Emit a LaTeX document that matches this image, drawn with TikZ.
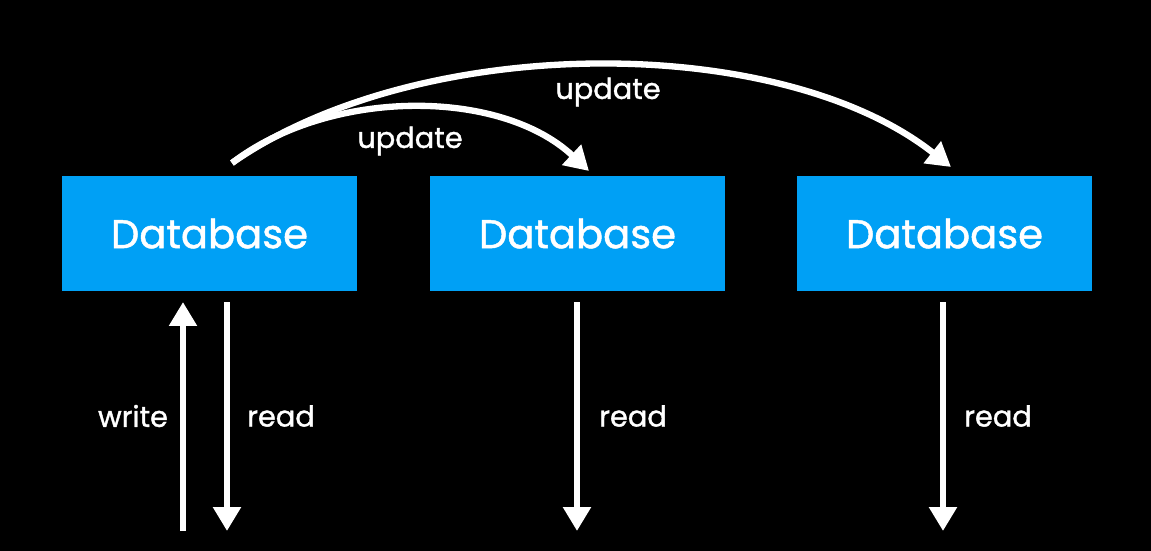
\documentclass[tikz,border=0pt]{standalone}
\usepackage{fontspec}
\setmainfont{Poppins}
\newfontfamily\medfont{Poppins}[FakeBold=1.2]
\usetikzlibrary{arrows.meta}
\definecolor{dbblue}{RGB}{0,160,245}
\tikzset{
  dbbox/.style={fill=dbblue, draw=none, minimum width=7.375cm, minimum height=2.85cm, inner sep=0pt, text=white, font=\medfont\fontsize{28.5}{34}\selectfont},
  flow/.style={white, line width=4.5pt, -{Triangle[width=19pt,length=17pt]}},
  lbl/.style={text=white, font=\medfont\fontsize{20.5}{24}\selectfont, inner sep=0pt}
}
\begin{document}
\begin{tikzpicture}[x=0.025cm, y=-0.025cm]
\fill[black] (0,0) rectangle (1151,551);
\useasboundingbox (0,0) rectangle (1151,551);

\node (db1) at (209.5,233.5) [dbbox]{Database};
\node (db2) at (577.5,233.5) [dbbox]{Database};
\node (db3) at (944.5,233.5) [dbbox]{Database};

\coordinate (src) at (232,163);
\coordinate (dst2) at (589,171);
\coordinate (dst3) at (951,167);
\coordinate (w0) at (183,531);
\coordinate (r1) at (227,531);
\coordinate (r2) at (577,531);
\coordinate (r3) at (943,531);

% updates
\draw[flow] (src) .. controls (420,32) and (780,32) .. (dst3);
\draw[flow] (src) .. controls (330,88) and (500,88) .. (dst2);
\node (up3) at (608,92) [lbl]{update};
\node (up2) at (410,141) [lbl]{update};

% write and reads
\draw[flow, shorten >=8pt] (w0) -- (db1.south -| w0);
\draw[flow, shorten <=8pt] (db1.south -| r1) -- (r1);
\draw[flow, shorten <=8pt] (db2.south -| r2) -- (r2);
\draw[flow, shorten <=8pt] (db3.south -| r3) -- (r3);

\node (wr) at (133,416) [lbl]{write};
\node (rd1) at (281,416) [lbl]{read};
\node (rd2) at (633,416) [lbl]{read};
\node (rd3) at (998,416) [lbl]{read};
\end{tikzpicture}
\end{document}
